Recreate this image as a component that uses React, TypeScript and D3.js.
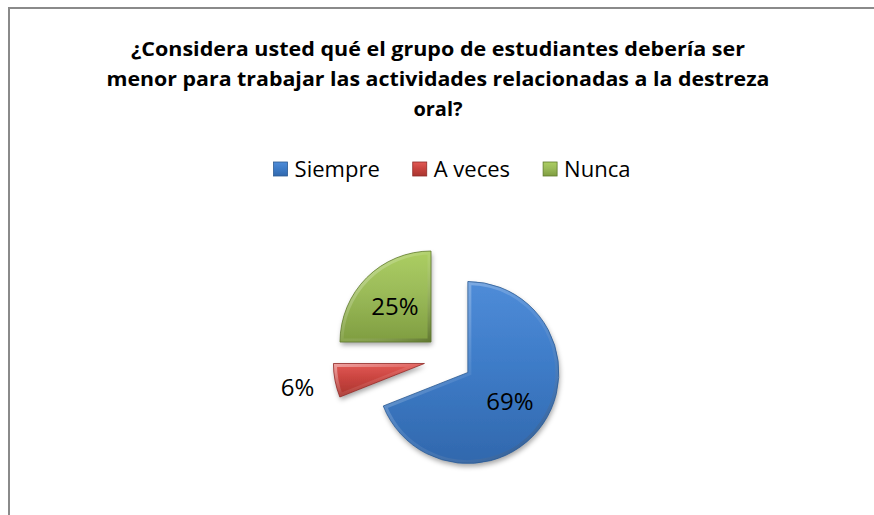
import React, { useEffect, useRef } from 'react';
import * as d3 from 'd3';

// data
const categories = ['Siempre', 'A veces', 'Nunca'];
const values = [69, 6, 25];
const pctLabels = ['69%', '6%', '25%'];
const titleLines = [
  '¿Considera usted qué el grupo de estudiantes debería ser',
  'menor para trabajar las actividades relacionadas a la destreza',
  'oral?',
];

const colors = [
  { light: '#4f8cd8', mid: '#3e7cc8', dark: '#3168ad', rim: '#2c5a92' },
  { light: '#e25a55', mid: '#c9443f', dark: '#a9352f', rim: '#8f2b28' },
  { light: '#acce62', mid: '#9bbb59', dark: '#7f9d40', rim: '#5f7a2c' },
];

const App: React.FC = () => {
  const ref = useRef<SVGSVGElement>(null);

  useEffect(() => {
    const svg = d3.select(ref.current);
    svg.selectAll('*').remove();

    const font = "'Open Sans', 'Noto Sans', sans-serif";
    const defs = svg.append('defs');

    colors.forEach((c, i) => {
      const g = defs.append('linearGradient')
        .attr('id', `fill${i}`).attr('x1', 0).attr('y1', 0).attr('x2', 0).attr('y2', 1);
      g.append('stop').attr('offset', '0%').attr('stop-color', c.light);
      g.append('stop').attr('offset', '45%').attr('stop-color', c.mid);
      g.append('stop').attr('offset', '100%').attr('stop-color', c.dark);
    });
    const bev = defs.append('linearGradient')
      .attr('id', 'bevel').attr('x1', 0).attr('y1', 0).attr('x2', 1).attr('y2', 1);
    bev.append('stop').attr('offset', '0%').attr('stop-color', '#fff').attr('stop-opacity', 0.45);
    bev.append('stop').attr('offset', '50%').attr('stop-color', '#fff').attr('stop-opacity', 0.08);
    bev.append('stop').attr('offset', '100%').attr('stop-color', '#000').attr('stop-opacity', 0.25);

    const shadow = defs.append('filter').attr('id', 'shadow')
      .attr('x', '-20%').attr('y', '-20%').attr('width', '150%').attr('height', '150%');
    shadow.append('feDropShadow')
      .attr('dx', 1).attr('dy', 3).attr('stdDeviation', 2.5)
      .attr('flood-color', '#000').attr('flood-opacity', 0.35);

    // frame (only left and top edges show in the crop)
    svg.append('rect')
      .attr('x', 9).attr('y', 8).attr('width', 1000).attr('height', 700)
      .attr('fill', '#fff').attr('stroke', '#8a8a8a').attr('stroke-width', 2);

    // title
    const title = svg.append('text')
      .attr('text-anchor', 'middle')
      .attr('font-family', font).attr('font-weight', 700).attr('font-size', 20)
      .attr('fill', '#000');
    const titleWidths = [614, 663, 0];
    titleLines.forEach((line, i) => {
      const t = title.append('tspan').attr('x', 438).attr('y', 56 + i * 30).text(line);
      if (titleWidths[i]) t.attr('textLength', titleWidths[i]).attr('lengthAdjust', 'spacingAndGlyphs');
    });

    // legend
    const legend = svg.append('g');
    let lx = 0;
    categories.forEach((name, i) => {
      const item = legend.append('g').attr('transform', `translate(${lx},0)`);
      item.append('rect')
        .attr('x', 0).attr('y', -7).attr('width', 14).attr('height', 14)
        .attr('fill', `url(#fill${i})`).attr('stroke', colors[i].rim).attr('stroke-width', 0.8);
      const t = item.append('text')
        .attr('x', 21).attr('y', 0).attr('dy', '0.35em')
        .attr('font-family', font).attr('font-size', 22).attr('fill', '#000')
        .text(name);
      const w = (t.node() as SVGTextElement).getComputedTextLength();
      lx += 21 + w + 33;
    });
    const legendW = lx - 33;
    legend.attr('transform', `translate(${452 - legendW / 2},169)`);

    // pie
    const cx = 448, cy = 359, r = 91, explode = 24;
    const pie = d3.pie<number>().sort(null).value(d => d);
    const arc = d3.arc<d3.PieArcDatum<number>>().innerRadius(0).outerRadius(r);
    const arcs = pie(values);

    const pieG = svg.append('g').attr('transform', `translate(${cx},${cy})`);
    arcs.forEach((a, i) => {
      const mid = (a.startAngle + a.endAngle) / 2;
      const ox = Math.sin(mid) * explode, oy = -Math.cos(mid) * explode;
      const g = pieG.append('g').attr('transform', `translate(${ox},${oy})`);
      const d = arc(a) as string;
      defs.append('clipPath').attr('id', `clip${i}`).append('path').attr('d', d);
      g.append('path').attr('d', d)
        .attr('fill', `url(#fill${i})`).attr('filter', 'url(#shadow)');
      g.append('path').attr('d', d)
        .attr('fill', 'none').attr('stroke', 'url(#bevel)').attr('stroke-width', 7)
        .attr('clip-path', `url(#clip${i})`);
      g.append('path').attr('d', d)
        .attr('fill', 'none').attr('stroke', colors[i].rim).attr('stroke-width', 0.8);

      const inside = values[i] >= 10;
      const lr = inside ? r * 0.56 : r * 1.42;
      g.append('text')
        .attr('x', Math.sin(mid) * lr).attr('y', -Math.cos(mid) * lr)
        .attr('text-anchor', 'middle').attr('dy', '0.36em')
        .attr('font-family', font).attr('font-size', 24).attr('fill', '#000')
        .text(pctLabels[i]);
    });
  }, []);

  return (
    <svg ref={ref} width={874} height={515}
      style={{ position: 'absolute', left: 0, top: 0, background: '#fff' }} />
  );
};

export default App;
